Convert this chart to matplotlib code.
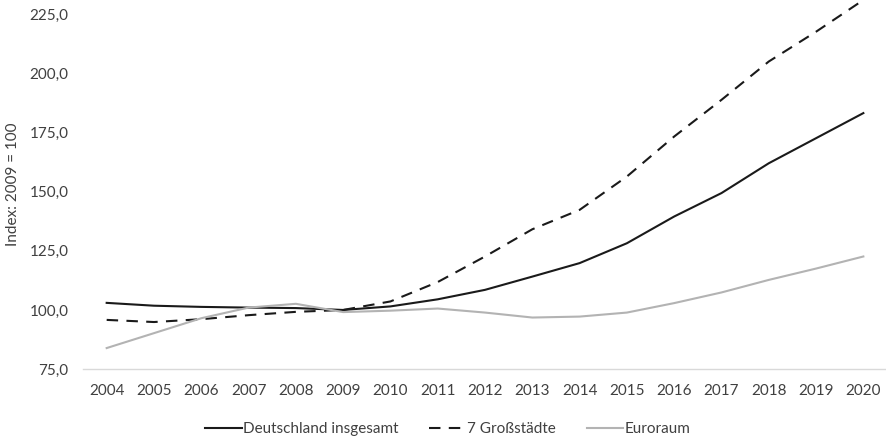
import matplotlib
matplotlib.use("Agg")
import matplotlib.pyplot as plt

years = list(range(2004, 2021))
deutschland = [103.0, 101.8, 101.3, 101.0, 100.8, 100.0, 101.5, 104.5, 108.5, 114.1,
               119.8, 128.2, 139.5, 149.4, 162.0, 172.6, 183.2]
grossstaedte = [95.8, 94.9, 96.1, 97.8, 99.2, 100.0, 103.6, 111.8, 122.6, 134.1,
                142.3, 156.4, 173.3, 188.8, 205.0, 217.6, 231.0]
euroraum = [83.9, 90.2, 96.5, 101.0, 102.6, 99.1, 99.7, 100.6, 98.9, 96.8,
            97.2, 98.9, 102.9, 107.4, 112.7, 117.5, 122.6]
y_ticks = [75, 100, 125, 150, 175, 200, 225]

plt.rcParams["font.family"] = ["Lato", "DejaVu Sans"]
text_color = "#404040"

fig = plt.figure(figsize=(8.87, 4.41), dpi=100)
ax = fig.add_axes([0.0936, 0.163, 0.9064, 0.837])

ax.plot(years, deutschland, color="#1a1a1a", lw=1.5, label="Deutschland insgesamt")
ax.plot(years, grossstaedte, color="#1a1a1a", lw=1.5, linestyle=(0, (5.5, 4)),
        label="7 Großstädte")
ax.plot(years, euroraum, color="#b3b3b3", lw=1.5, label="Euroraum")

ax.set_xlim(2003.5, 2020.5)
ax.set_ylim(75, 231)
ax.set_xticks(years)
ax.set_xticklabels([str(y) for y in years])
ax.set_yticks(y_ticks)
ax.set_yticklabels([f"{v:.1f}".replace(".", ",") for v in y_ticks])

for side in ["top", "right", "left"]:
    ax.spines[side].set_visible(False)
ax.spines["bottom"].set_color("#d9d9d9")
ax.spines["bottom"].set_linewidth(1.0)
ax.tick_params(axis="both", length=0, labelsize=11, colors=text_color)
ax.tick_params(axis="x", pad=11)
ax.tick_params(axis="y", pad=10.5)

ax.set_ylabel("Index: 2009 = 100", fontsize=11, color=text_color, labelpad=7)

fig.legend(*ax.get_legend_handles_labels(), loc="center", bbox_to_anchor=(0.505, 0.027),
           ncol=3, frameon=False, fontsize=11, handlelength=2.4, handletextpad=0.1,
           columnspacing=2.0, labelcolor=text_color, borderpad=0)

fig.savefig("out.png", dpi=100)
